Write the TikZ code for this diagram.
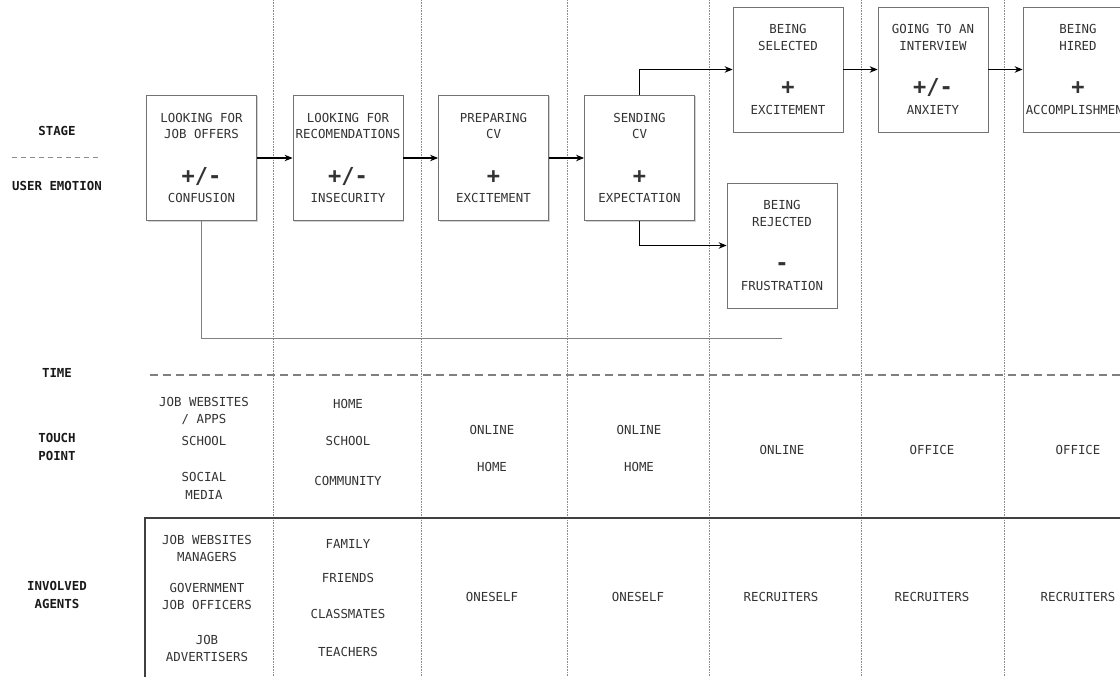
\documentclass[tikz,border=0pt]{standalone}
\usepackage{fontspec}
\setmonofont{DejaVu Sans Mono}
\usetikzlibrary{positioning, arrows.meta, shadows}

\newcommand{\emo}[1]{\smash{\fontsize{22}{22}\selectfont\bfseries #1}}

\begin{document}
\begin{tikzpicture}[
    x=1pt, y=-1pt,
    font=\ttfamily\fontsize{12.4}{17}\selectfont,
    text=black!80,
    stage_box/.style={rectangle, draw=black!55, fill=white, line width=0.8pt, minimum width=110pt, minimum height=125pt, align=center, inner sep=0pt, drop shadow={shadow xshift=1pt, shadow yshift=-1pt, opacity=0.35}, font=\ttfamily\fontsize{12.4}{16.5}\selectfont},
    head/.style={font=\ttfamily\bfseries\fontsize{12.4}{18}\selectfont, text=black!90, align=center},
    cell/.style={align=center},
    arrow/.style={draw=black, line width=1.1pt, -{Stealth[length=8pt, width=6.5pt]}},
    divider/.style={draw=black!45, line width=0.5pt, dash pattern=on 0.8pt off 0.8pt},
    timeline/.style={draw=black!50, line width=0.8pt},
    rule_line/.style={draw=black!75, line width=1.4pt}
]

\clip (0,0) rectangle (1120,677);

% Column dividers
\foreach \x in {273,421,567,709,861,1004}
    \draw[divider] (\x,0) -- (\x,677);

% Row headings
\node[head] (stage_lbl) at (57,131) {STAGE};
\draw[black!45, line width=1pt, dash pattern=on 5pt off 4pt] (12,157) -- (100,157);
\node[head] (emotion_lbl) at (57,186) {USER EMOTION};
\node[head] (time_lbl) at (57,373) {TIME};
\node[head] (touch_lbl) at (57,447) {TOUCH\\POINT};
\node[head] (agents_lbl) at (57,595) {INVOLVED\\AGENTS};

% Stages
\node[stage_box] (looking_offers) at (201.5,158) {LOOKING FOR\\JOB OFFERS\\[28pt]\emo{+/-}\\[3pt]CONFUSION};
\node[stage_box] (looking_recs) at (348,158) {LOOKING FOR\\RECOMENDATIONS\\[28pt]\emo{+/-}\\[3pt]INSECURITY};
\node[stage_box] (preparing_cv) at (493.5,158) {PREPARING\\CV\\[28pt]\emo{+}\\[3pt]EXCITEMENT};
\node[stage_box] (sending_cv) at (639.5,158) {SENDING\\CV\\[28pt]\emo{+}\\[3pt]EXPECTATION};
\node[stage_box] (being_selected) at (788,69.5) {BEING\\SELECTED\\[28pt]\emo{+}\\[3pt]EXCITEMENT};
\node[stage_box] (being_rejected) at (782,245.5) {BEING\\REJECTED\\[28pt]\emo{-}\\[3pt]FRUSTRATION};
\node[stage_box] (interview) at (933,69.5) {GOING TO AN\\INTERVIEW\\[28pt]\emo{+/-}\\[3pt]ANXIETY};
\node[stage_box] (being_hired) at (1078,69.5) {BEING\\HIRED\\[28pt]\emo{+}\\[3pt]ACCOMPLISHMENT};

% Connections
\draw[arrow] (looking_offers) -- (looking_recs);
\draw[arrow] (looking_recs) -- (preparing_cv);
\draw[arrow] (preparing_cv) -- (sending_cv);
\draw[arrow] (sending_cv.north) |- (being_selected);
\draw[arrow] (sending_cv.south) |- (being_rejected);
\draw[arrow] (being_selected) -- (interview);
\draw[arrow] (interview) -- (being_hired);

% Time
\coordinate (time_end) at (782,338);
\draw[timeline] (looking_offers.south) |- (time_end);
\draw[black!50, line width=1.2pt, dash pattern=on 8pt off 5pt] (150,375) -- (1120,375);

% Touch points
\node[cell] (touch_1) at (204,448.5) {JOB WEBSITES\\/ APPS\\[5pt]SCHOOL\\[19pt]SOCIAL\\[1pt]MEDIA};
\node[cell] (touch_2) at (348,442.5) {HOME\\[20pt]SCHOOL\\[23pt]COMMUNITY};
\node[cell] (touch_3) at (492,448.5) {ONLINE\\[20pt]HOME};
\node[cell] (touch_4) at (639,448.5) {ONLINE\\[20pt]HOME};
\node[cell] (touch_5) at (782,450) {ONLINE};
\node[cell] (touch_6) at (932,450) {OFFICE};
\node[cell] (touch_7) at (1078,450) {OFFICE};

\draw[rule_line] (145,677) -- (145,518) -- (1120,518);

% Involved agents
\node[cell] (agents_1) at (207,598.5) {JOB WEBSITES\\MANAGERS\\[14pt]GOVERNMENT\\JOB OFFICERS\\[18pt]JOB\\ADVERTISERS};
\node[cell] (agents_2) at (348,598) {FAMILY\\[17pt]FRIENDS\\[19pt]CLASSMATES\\[21pt]TEACHERS};
\node[cell] (agents_3) at (492,597) {ONESELF};
\node[cell] (agents_4) at (638,597) {ONESELF};
\node[cell] (agents_5) at (781,597) {RECRUITERS};
\node[cell] (agents_6) at (932,597) {RECRUITERS};
\node[cell] (agents_7) at (1078,597) {RECRUITERS};

\end{tikzpicture}
\end{document}
